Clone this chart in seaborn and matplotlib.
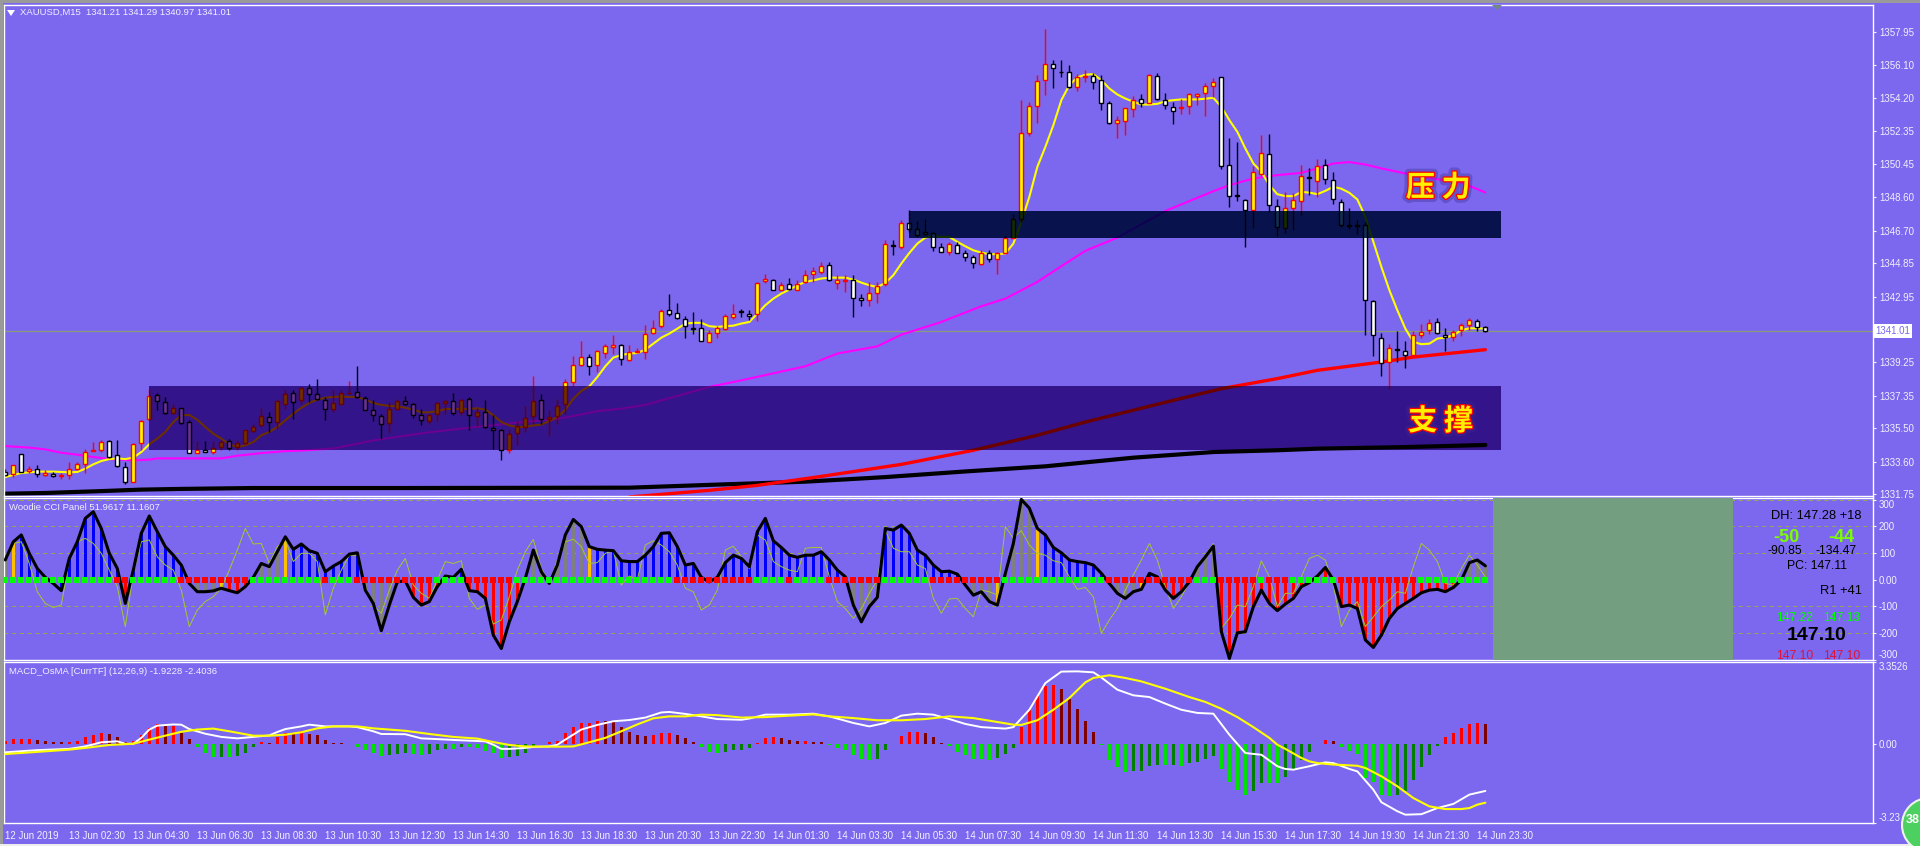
import numpy as np
import pandas as pd
import matplotlib
matplotlib.use('Agg')
import matplotlib.pyplot as plt
import matplotlib.patheffects as pe
from matplotlib.colors import to_rgb
from matplotlib.patches import Rectangle, Circle, Polygon
from matplotlib.transforms import IdentityTransform
import seaborn as sns

W, H = 1920, 846
BG = '#7B68EE'
TXT = '#F0F0FF'

OPENS = [
    1333.02,1332.92,1334.06,1333.07,1333.19,1332.87,1332.92,1332.79,1332.83,1333.21,
    1333.49,1334.23,1334.28,1334.77,1333.98,1333.32,1332.47,1334.66,1336.02,1337.40,
    1337.00,1336.36,1336.65,1335.85,1334.11,1334.26,1334.17,1334.42,1334.77,1334.43,
    1334.66,1335.34,1335.70,1336.13,1335.87,1336.89,1337.50,1337.12,1337.78,1337.44,
    1337.10,1336.61,1336.89,1337.48,1337.55,1337.23,1336.53,1336.21,1335.80,1336.61,
    1337.04,1336.87,1336.25,1335.93,1336.32,1336.95,1337.04,1336.40,1337.17,1336.21,
    1336.41,1335.51,1335.40,1334.28,1335.22,1335.57,1336.21,1337.12,1336.04,1336.17,
    1336.89,1338.14,1339.08,1339.55,1339.10,1339.76,1340.10,1340.22,1339.39,1339.82,
    1339.84,1340.90,1341.29,1342.22,1342.05,1341.71,1341.18,1341.20,1340.41,1340.92,
    1341.14,1341.82,1342.16,1341.99,1341.97,1343.84,1343.92,1343.35,1343.68,1343.35,
    1343.79,1344.21,1344.36,1344.72,1343.73,1343.85,1343.92,1342.90,1342.79,1343.16,
    1343.68,1345.90,1345.77,1347.15,1346.81,1346.64,1346.57,1345.79,1345.51,1345.90,
    1345.45,1345.21,1344.83,1345.43,1345.06,1345.43,1346.30,1347.38,1352.24,1353.73,
    1355.21,1356.15,1355.70,1355.66,1354.81,1355.39,1355.43,1355.21,1353.90,1352.82,
    1352.93,1353.58,1354.13,1353.94,1355.43,1354.07,1353.71,1353.64,1353.75,1354.35,
    1354.47,1354.90,1355.38,1350.44,1348.70,1348.44,1347.89,1349.91,1351.04,1348.09,
    1346.85,1348.00,1348.38,1349.76,1349.53,1350.44,1349.59,1348.34,1347.02,1347.02,
    1347.04,1342.73,1340.63,1339.27,1340.01,1339.90,1339.65,1340.78,1341.05,1341.52,
    1340.80,1340.67,1341.05,1341.35,1341.60,1341.21]
HIGHS = [
    1333.21,1333.43,1334.06,1333.38,1333.43,1333.11,1333.02,1332.96,1333.58,1333.60,
    1334.34,1334.72,1334.85,1334.85,1334.81,1333.58,1334.68,1335.98,1337.70,1337.51,
    1337.27,1336.85,1336.66,1335.98,1334.76,1334.77,1334.77,1334.85,1334.91,1334.85,
    1335.41,1335.76,1336.65,1336.40,1337.08,1337.68,1337.64,1337.84,1337.99,1338.27,
    1337.27,1337.68,1337.68,1338.16,1339.01,1337.31,1337.08,1336.32,1336.99,1337.17,
    1337.31,1336.92,1336.61,1336.32,1336.99,1337.12,1337.50,1337.13,1337.27,1336.65,
    1337.08,1336.23,1335.48,1335.48,1335.91,1336.73,1338.44,1337.46,1336.55,1337.17,
    1338.31,1339.59,1340.42,1339.69,1339.92,1340.29,1340.77,1340.29,1340.24,1340.07,
    1341.33,1341.61,1342.28,1343.09,1342.62,1341.84,1342.11,1341.67,1341.05,1341.29,
    1341.99,1342.56,1342.26,1342.18,1343.79,1344.26,1343.98,1343.79,1344.00,1343.92,
    1344.45,1344.64,1344.94,1344.94,1344.17,1344.17,1344.19,1343.13,1343.79,1343.79,
    1346.15,1346.15,1347.32,1347.85,1347.25,1347.36,1346.62,1346.02,1346.06,1346.06,
    1345.62,1345.30,1345.62,1345.58,1345.49,1346.42,1347.66,1354.09,1354.00,1355.51,
    1358.11,1356.39,1356.39,1356.06,1355.56,1355.79,1355.64,1355.51,1354.03,1353.18,
    1353.66,1354.32,1354.43,1355.55,1355.60,1354.47,1354.00,1354.18,1354.47,1354.47,
    1355.04,1355.32,1355.41,1351.97,1351.69,1348.47,1350.38,1352.11,1352.16,1348.51,
    1348.89,1348.80,1350.40,1350.27,1350.78,1350.78,1350.04,1348.47,1347.95,1347.28,
    1347.19,1342.79,1340.92,1340.26,1340.99,1340.43,1341.01,1341.39,1341.71,1341.77,
    1341.20,1341.05,1341.46,1341.73,1341.67,1341.29]
LOWS = [
    1332.77,1332.73,1333.02,1332.96,1332.73,1332.77,1332.73,1332.60,1332.60,1333.11,
    1332.96,1334.21,1334.15,1333.83,1333.30,1332.32,1332.45,1334.28,1335.95,1336.51,
    1336.32,1336.32,1335.76,1334.09,1334.09,1334.13,1334.02,1334.25,1334.25,1334.25,
    1334.62,1335.29,1335.57,1335.29,1335.48,1336.61,1336.02,1336.85,1336.99,1337.08,
    1335.95,1336.40,1336.85,1337.42,1337.23,1336.51,1335.91,1334.89,1335.23,1336.55,
    1336.80,1336.08,1335.66,1335.72,1335.91,1336.32,1336.25,1336.22,1335.37,1335.57,
    1335.53,1334.34,1333.68,1334.09,1334.53,1335.30,1335.76,1335.72,1335.04,1335.72,
    1336.32,1337.91,1339.02,1338.52,1338.67,1339.50,1339.69,1339.06,1339.29,1339.76,
    1339.40,1340.86,1341.20,1341.86,1341.69,1340.60,1340.86,1340.44,1340.39,1340.63,
    1341.09,1341.67,1341.78,1341.65,1341.58,1343.73,1343.32,1343.32,1343.32,1343.32,
    1343.70,1343.79,1344.26,1343.83,1343.39,1343.20,1341.80,1342.41,1342.43,1342.60,
    1343.58,1345.34,1345.68,1346.62,1346.34,1346.42,1345.55,1345.47,1345.30,1345.40,
    1344.98,1344.56,1344.75,1344.90,1344.22,1345.40,1346.26,1347.19,1352.05,1352.80,
    1354.37,1354.77,1355.38,1354.75,1354.60,1355.13,1354.71,1353.52,1352.75,1351.95,
    1352.11,1353.13,1353.71,1353.90,1354.09,1353.58,1352.73,1353.30,1353.30,1353.81,
    1353.18,1354.28,1350.20,1348.04,1348.38,1345.77,1346.85,1349.84,1347.76,1346.38,
    1346.57,1346.72,1347.57,1348.70,1348.61,1349.33,1348.19,1346.91,1346.79,1346.53,
    1340.77,1339.57,1338.44,1337.74,1339.23,1338.91,1339.57,1340.63,1340.86,1340.86,
    1339.88,1340.44,1340.71,1341.05,1341.01,1340.97]
CLOSES = [
    1332.83,1333.43,1333.02,1333.21,1332.92,1332.94,1332.81,1332.83,1333.21,1333.49,
    1334.15,1334.28,1334.72,1333.89,1333.38,1332.45,1334.62,1335.91,1337.33,1337.06,
    1336.36,1336.66,1335.81,1334.11,1334.26,1334.17,1334.36,1334.74,1334.40,1334.66,
    1335.38,1335.57,1336.19,1335.85,1337.04,1337.44,1336.99,1337.78,1337.44,1337.17,
    1336.59,1336.93,1337.50,1337.52,1337.27,1336.55,1336.27,1335.76,1336.59,1337.02,
    1336.89,1336.27,1335.99,1336.25,1336.93,1337.02,1336.37,1337.10,1336.27,1336.40,
    1335.57,1335.42,1334.28,1335.19,1335.63,1336.09,1337.04,1336.02,1336.15,1336.76,
    1338.12,1339.10,1339.55,1339.04,1339.90,1340.18,1340.23,1339.44,1339.82,1339.90,
    1340.86,1341.18,1342.16,1341.97,1341.77,1341.31,1341.12,1340.46,1340.92,1341.20,
    1341.88,1341.97,1342.11,1341.88,1343.73,1343.98,1343.35,1343.64,1343.39,1343.68,
    1344.19,1344.41,1344.70,1343.87,1343.92,1343.92,1342.90,1342.79,1343.18,1343.56,
    1345.94,1345.83,1347.15,1346.81,1346.42,1346.51,1345.79,1345.51,1345.94,1345.43,
    1345.21,1344.87,1345.43,1345.09,1345.43,1346.28,1347.36,1352.24,1353.77,1355.19,
    1356.15,1355.92,1355.66,1354.81,1355.41,1355.45,1355.13,1353.90,1352.80,1352.95,
    1353.62,1354.11,1353.94,1355.49,1354.13,1353.79,1353.50,1353.71,1354.41,1354.45,
    1354.90,1355.13,1350.35,1348.68,1348.65,1347.89,1349.99,1351.10,1348.17,1346.92,
    1347.95,1348.44,1349.80,1349.65,1350.36,1349.63,1348.46,1347.02,1346.93,1346.93,
    1342.79,1340.80,1339.20,1340.07,1339.93,1339.67,1340.78,1340.97,1341.48,1340.92,
    1340.67,1340.95,1341.37,1341.65,1341.26,1341.01]

# fast moving average, one reading per bar
MA_FAST = [
    1332.73,1332.85,1332.96,1333.00,1333.04,1333.04,1333.04,1333.02,1333.00,1333.02,
    1333.21,1333.45,1333.64,1333.75,1333.79,1333.75,1333.83,1334.15,1334.59,1334.91,
    1335.29,1335.85,1336.23,1336.25,1335.98,1335.57,1335.19,1334.91,1334.59,1334.43,
    1334.53,1334.72,1335.10,1335.29,1335.57,1335.95,1336.32,1336.66,1336.93,1337.12,
    1337.23,1337.27,1337.29,1337.27,1337.27,1337.12,1336.93,1336.82,1336.76,1336.74,
    1336.66,1336.55,1336.40,1336.40,1336.47,1336.59,1336.59,1336.59,1336.59,1336.63,
    1336.55,1336.23,1335.85,1335.66,1335.57,1335.57,1335.66,1335.70,1335.91,1336.13,
    1336.55,1337.17,1337.61,1337.87,1338.40,1339.01,1339.50,1339.65,1339.73,1339.76,
    1339.95,1340.29,1340.63,1340.86,1341.14,1341.43,1341.47,1341.47,1341.28,1341.24,
    1341.28,1341.31,1341.43,1341.52,1341.99,1342.47,1342.84,1343.13,1343.35,1343.60,
    1343.79,1343.88,1343.98,1344.03,1344.03,1344.03,1343.92,1343.75,1343.60,1343.50,
    1343.73,1344.17,1344.83,1345.43,1345.96,1346.30,1346.38,1346.34,1346.34,1346.06,
    1345.81,1345.58,1345.45,1345.36,1345.36,1345.40,1345.96,1347.19,1348.61,1350.31,
    1351.44,1352.67,1354.09,1354.94,1355.38,1355.53,1355.56,1355.22,1354.75,1354.41,
    1354.18,1354.00,1353.84,1353.84,1353.88,1354.03,1354.09,1354.13,1354.13,1354.13,
    1354.17,1354.22,1353.71,1352.96,1352.29,1351.35,1350.50,1350.03,1349.27,1348.76,
    1348.65,1348.65,1348.89,1348.85,1348.76,1348.95,1349.18,1349.07,1348.84,1348.46,
    1347.48,1346.06,1344.64,1343.32,1342.18,1341.14,1340.39,1340.26,1340.29,1340.58,
    1340.63,1340.77,1341.05,1341.16,1341.16,1341.14]

MA_MID_BARS = [0,3,5,7,9,11,13,16,18,19,27,29,32,35,37,41,44,46,50,53,58,62,66,69,72,74,77,80,
               88,92,100,104,109,112,117,122,125,129,132,135,139,145,151,153,156,159,162,164,
               166,168,170,172,174,177,179,182,185]
MA_MID = [1334.49,1334.40,1334.30,1334.11,1334.00,1333.87,1333.75,1333.68,1333.72,1333.79,1333.79,
          1333.94,1334.09,1334.20,1334.23,1334.35,1334.62,1334.81,1335.08,1335.27,1335.53,1335.72,
          1335.91,1336.02,1336.28,1336.47,1336.61,1336.82,1337.84,1338.21,1339.01,1339.73,1340.14,
          1340.80,1341.52,1342.41,1342.84,1343.79,1344.68,1345.55,1346.30,1347.81,1348.93,1349.27,
          1349.65,1349.84,1349.97,1350.22,1350.50,1350.58,1350.44,1350.22,1350.03,1349.74,1349.61,
          1349.41,1348.86]

MA_SLOW_BARS = [78,88,94,102,112,121,129,135,146,152,159,164,172,176,185]
MA_SLOW = [1331.60,1331.98,1332.26,1332.77,1333.45,1334.25,1335.10,1335.85,1337.08,1337.74,1338.31,
           1338.78,1339.25,1339.53,1339.95]

MA_LONG_BARS = [0,5,11,17,22,31,50,78,90,100,110,120,130,141,151,159,164,175,185]
MA_LONG = [1331.79,1331.83,1331.92,1332.02,1332.06,1332.11,1332.11,1332.13,1332.32,1332.47,1332.73,
           1333.05,1333.34,1333.83,1334.15,1334.25,1334.34,1334.43,1334.55]

# zones: start bar, end bar, low price, high price
SUPPORT_ZONE = [17.96, 186.9, 1334.24, 1337.87]
RESIST_ZONE = [112.97, 186.9, 1346.27, 1347.80]

PRICE_TICKS = [1357.95,1356.10,1354.20,1352.35,1350.45,1348.60,1346.70,1344.85,1342.95,1341.01,
               1339.25,1337.35,1335.50,1333.60,1331.75]

CCI_TURBO = [
    74,142,168,99,42,9,-14,-41,80,142,230,255,192,99,42,-89,36,174,239,180,
    124,92,55,-14,-45,-45,-42,-32,-41,-49,-26,9,61,49,105,161,114,134,109,99,
    30,51,68,96,101,-39,-89,-191,-95,-8,-4,-66,-95,-82,-26,14,9,39,-41,-45,
    -70,-208,-258,-158,-82,5,111,30,-14,55,168,226,199,124,114,111,109,71,68,68,
    92,124,174,176,124,55,61,9,-8,9,64,92,80,49,180,230,146,121,92,84,
    92,92,105,74,36,11,-95,-158,-101,-66,192,186,205,174,111,92,55,30,32,21,
    -20,-58,-45,-82,-95,24,136,301,268,192,168,121,101,74,68,64,55,24,-14,-51,
    -70,-45,-36,24,11,-39,-70,-45,-8,49,86,126,-195,-295,-199,-195,-101,-39,-89,-116,
    -91,-70,-26,-11,14,46,-1,-101,-95,-108,-226,-254,-208,-145,-108,-89,-70,-49,-39,-36,
    -45,-29,-1,64,74,52]
CCI_THIN = [
    74,136,142,61,-45,-89,-104,-95,74,142,155,136,99,36,-26,-176,24,142,149,86,
    55,36,-39,-176,-114,-82,-64,-32,36,111,192,134,136,61,124,149,68,99,99,68,
    -132,-32,36,92,92,-26,-95,-126,-39,36,80,-20,-51,-70,-1,68,61,71,-70,-111,
    -95,-166,-151,-64,36,105,151,42,-14,74,142,152,124,61,64,99,109,-20,14,-1,
    130,146,130,105,55,-32,-45,-114,-95,-39,111,126,86,42,168,149,68,49,36,30,
    118,121,121,11,-82,-108,-145,-108,-51,-1,184,118,105,105,55,42,-70,-126,-72,-70,
    -108,-139,-39,-45,-58,199,155,184,130,99,92,71,64,11,-36,-29,-64,-201,-151,-108,
    -39,18,74,136,74,-26,-108,-64,-8,55,92,136,-182,-145,-95,-101,-26,71,11,-101,
    -51,-51,11,80,92,74,-20,-176,-114,-82,-176,-139,-101,-76,-45,-51,49,136,111,68,
    -14,-20,42,92,55,11]
CCI_LEVELS = [200, 100, -100, -200]
CCI_KINDS = ('g' + 'o' + 'b'*13 + 'r' + 'b'*7 + 'r' + 'g'*3 + 'o' + 'r'*3 + 'g'*4 + 'o' + 'b'*9 + 'g'*5
             + 'r'*5 + 'b'*3 + 'r'*8 + 'g'*7 + 'o' + 'b'*32 + 'g'*4 + 'b'*10 + 'g'*4 + 'o' + 'g'*4 + 'o'
             + 'b'*8 + 'g'*4 + 'o' + 'b'*2 + 'r'*4 + 'g'*3 + 'r'*31 + 'g'*3)
CCI_DOTS = ('g'*14 + 'r'*2 + 'g'*6 + 'r'*9 + 'g'*9 + 'r' + 'g'*3 + 'r'*10 + 'g'*4 + 'r'*6 + 'g'*16
            + 'g'*4 + 'r'*10 + 'g'*4 + 'r' + 'g'*4 + 'r'*7 + 'g'*6 + 'r'*9 + 'g'*13 + 'r'*11 + 'g'*3
            + 'r'*5 + 'g' + 'r'*3 + 'g'*6 + 'r'*10 + 'g'*9)

OSMA = [
    .11,.20,.20,.20,.16,.12,.10,.08,.08,.11,.29,.37,.45,.42,.29,.07,.11,.35,.65,.82,
    .72,.75,.45,.20,-.14,-.37,-.54,-.54,-.55,-.50,-.37,-.14,.08,.04,.29,.45,.42,.52,.42,.37,
    .18,.04,.03,.01,-.11,-.23,-.37,-.50,-.46,-.41,-.37,-.39,-.44,-.39,-.26,-.20,-.21,-.11,-.14,-.16,
    -.27,-.37,-.59,-.54,-.48,-.37,-.16,.01,.07,.14,.45,.69,.86,.87,.94,.93,.89,.69,.49,.38,
    .34,.35,.45,.46,.37,.25,.10,-.14,-.31,-.37,-.31,-.26,-.23,-.18,.05,.26,.27,.26,.16,.12,
    .12,.10,.08,-.03,-.16,-.23,-.45,-.61,-.64,-.60,-.26,.01,.34,.50,.51,.45,.29,.04,-.10,-.31,
    -.46,-.60,-.61,-.64,-.56,-.39,-.16,.69,1.40,1.97,2.36,2.42,2.26,1.85,1.44,.95,.49,-.04,-.64,-.95,
    -1.13,-1.12,-1.09,-.88,-.84,-.86,-.86,-.89,-.78,-.72,-.60,-.48,-1.01,-1.54,-1.87,-2.10,-1.93,-1.59,-1.60,-1.61,
    -1.36,-1.01,-.67,-.31,-.01,.18,.12,-.11,-.27,-.39,-1.39,-1.54,-2.10,-2.14,-2.07,-1.93,-1.46,-.95,-.44,-.07,
    .27,.45,.67,.83,.87,.83]

MACD_BARS = [0,4,8,10,12,14,15,16,17,18,19,21,22,23,25,27,29,31,33,34,35,37,38,40,43,44,46,47,50,52,54,57,60,
             61,62,63,65,66,68,69,70,72,74,76,78,80,82,83,85,87,89,92,93,95,98,101,103,106,108,110,112,114,116,
             118,120,122,125,126,128,130,132,134,136,137,139,141,143,145,147,149,151,153,155,157,159,160,161,163,
             165,166,168,169,171,172,174,175,177,179,181,183,185]
MACD_LINE = [-.34,-.25,-.20,-.10,.07,.11,.01,.01,.25,.59,.75,.80,.79,.61,.42,.29,.23,.29,.35,.49,.61,.72,.79,.72,.72,
             .69,.52,.41,.40,.23,.20,.15,.11,-.03,-.20,-.20,-.16,-.12,-.10,-.03,.18,.59,.78,.93,.98,1.08,1.29,1.31,
             1.23,1.13,1.02,.99,1.04,1.20,1.20,1.24,1.13,.86,.72,.86,1.16,1.24,1.20,1.02,.82,.69,.63,.69,1.40,2.49,
             2.96,2.97,2.93,2.72,2.22,1.99,1.92,1.65,1.40,1.27,1.24,.38,-.37,-.44,-.91,-1.02,-1.05,-.91,-.75,-.78,
             -1.02,-1.12,-1.87,-2.38,-2.75,-2.89,-2.87,-2.62,-2.45,-2.07,-1.92]
SIGNAL_BARS = [0,5,8,10,13,16,18,20,22,24,26,28,31,33,35,37,39,41,44,46,50,53,56,59,61,63,65,69,71,73,75,77,79,81,83,
               85,87,89,92,95,98,101,103,106,109,112,115,118,121,124,126,127,129,131,133,135,136,138,140,142,145,148,
               150,152,154,156,158,159,160,162,163,164,166,169,170,172,174,176,178,180,182,183,184,185]
SIGNAL_LINE = [-.41,-.30,-.23,-.16,-.04,.01,.18,.34,.50,.59,.63,.52,.34,.34,.38,.48,.64,.72,.72,.64,.54,.41,.29,.22,.08,
               -.04,-.10,-.11,-.10,.07,.25,.52,.80,1.05,1.13,1.13,1.20,1.18,1.08,1.10,1.16,1.21,1.13,1.06,.97,.97,1.02,
               1.13,1.06,.90,.79,.78,.97,1.40,1.88,2.52,2.70,2.81,2.70,2.56,2.26,1.92,1.72,1.44,1.10,.69,.25,-.03,-.20,
               -.57,-.71,-.78,-.84,-.89,-.98,-1.32,-1.73,-2.21,-2.55,-2.66,-2.66,-2.62,-2.48,-2.40]

TIME_LABELS = ['12 Jun 2019','13 Jun 02:30','13 Jun 04:30','13 Jun 06:30','13 Jun 08:30','13 Jun 10:30','13 Jun 12:30',
               '13 Jun 14:30','13 Jun 16:30','13 Jun 18:30','13 Jun 20:30','13 Jun 22:30','14 Jun 01:30','14 Jun 03:30',
               '14 Jun 05:30','14 Jun 07:30','14 Jun 09:30','14 Jun 11:30','14 Jun 13:30','14 Jun 15:30','14 Jun 17:30',
               '14 Jun 19:30','14 Jun 21:30','14 Jun 23:30']

sns.set_theme(style='dark', rc={'axes.facecolor': BG, 'figure.facecolor': BG, 'axes.edgecolor': 'white',
                                'axes.linewidth': 1.0, 'xtick.color': TXT, 'ytick.color': TXT})
plt.rcParams['font.family'] = ['Liberation Sans', 'Noto Sans CJK SC', 'DejaVu Sans']

bars = np.arange(len(CLOSES))
fig = plt.figure(figsize=(W / 100, H / 100), dpi=100)


def panel(top, bottom, left=4, right=1872.6):
    ax = fig.add_axes([left / W, 1 - bottom / H, (right - left) / W, (bottom - top) / H])
    ax.grid(False)
    return ax


def pixel_text(x, y, s, **kw):
    fig.text(x / W, 1 - y / H, s, va='center', **kw)


def pixel_rect(x0, y0, x1, y1, color):
    fig.add_artist(Rectangle((x0, H - y1), x1 - x0, y1 - y0, color=color, lw=0,
                             transform=IdentityTransform()))


def draw_price(ax, tint=None, clip=None):
    # zones darken whatever is under them, so the same marks get redrawn tinted and clipped
    def col(c):
        return c if tint is None else tuple(a * b for a, b in zip(to_rgb(c), tint))
    z = 2 if tint is None else 4
    before = set(ax.get_children())
    sns.lineplot(x=MA_LONG_BARS, y=MA_LONG, color=col('black'), lw=3.0, ax=ax, zorder=z)
    sns.lineplot(x=MA_SLOW_BARS, y=MA_SLOW, color=col('red'), lw=2.4, ax=ax, zorder=z)
    sns.lineplot(x=MA_MID_BARS, y=MA_MID, color=col('#FF00FF'), lw=1.5, ax=ax, zorder=z)
    sns.lineplot(x=bars, y=MA_FAST, color=col('#FFFF00'), lw=1.5, ax=ax, zorder=z)
    up = np.array(CLOSES) >= np.array(OPENS)
    edge = [col('red') if u else col('black') for u in up]
    fill = [col('#FFFF00') if u else col('white') for u in up]
    ax.vlines(bars, LOWS, HIGHS, colors=edge, lw=1.0, zorder=z + 0.1)
    ax.bar(bars, np.abs(np.array(CLOSES) - np.array(OPENS)), bottom=np.minimum(OPENS, CLOSES), width=0.5,
           color=fill, edgecolor=edge, linewidth=1.0, zorder=z + 0.2)
    if clip is not None:
        for artist in set(ax.get_children()) - before:
            artist.set_clip_path(clip)


# main price panel
ax_p = panel(5, 496.5)
ax_p.axhline(CLOSES[-1], color='#8C9A78', lw=0.9, zorder=1)
draw_price(ax_p)
for zone, zone_col, tint in [(SUPPORT_ZONE, '#34148A', (0.42, 0.19, 0.58)),
                             (RESIST_ZONE, '#08134E', (0.065, 0.18, 0.33))]:
    rect = Rectangle((zone[0], zone[2]), zone[1] - zone[0], zone[3] - zone[2], color=zone_col, lw=0, zorder=3)
    ax_p.add_patch(rect)
    draw_price(ax_p, tint=tint, clip=rect)
ax_p.set_xlim(-0.16, 233.4)
ax_p.set_ylim(1331.63, 1359.48)
ax_p.set_xticks([])
ax_p.yaxis.tick_right()
ax_p.set_yticks(PRICE_TICKS)
ax_p.set_yticklabels(['%.2f' % v if v != CLOSES[-1] else '' for v in PRICE_TICKS], fontsize=7)
ax_p.tick_params(axis='y', length=2.5, width=0.8, pad=2, colors=TXT)
ax_p.set_ylabel('')
ax_p.text(1.0012, CLOSES[-1], '%.2f' % CLOSES[-1], transform=ax_p.get_yaxis_transform(), va='center', fontsize=7,
          color=BG, bbox=dict(fc='white', ec='none', pad=1.6), clip_on=False)

glow = [pe.withStroke(linewidth=6, foreground='#3A2A90', alpha=0.35), pe.withStroke(linewidth=1.8, foreground='red')]
ax_p.text(179.1, 1349.15, '压 力', ha='center', va='center', fontsize=21, color='#FFF000', fontweight='bold',
          family=['Noto Sans CJK SC'], path_effects=glow, zorder=6)
ax_p.text(179.4, 1335.91, '支 撑', ha='center', va='center', fontsize=21, color='#FFF000', fontweight='bold',
          family=['Noto Sans CJK SC'], path_effects=glow, zorder=6)

# Woodie CCI panel
ax_c = panel(498.5, 660)
for lev in CCI_LEVELS + [300]:
    ax_c.axhline(lev, color='#9CA64A', lw=0.7, ls=(0, (4, 4)), zorder=1)
cci_df = pd.DataFrame({'bar': bars, 'val': CCI_TURBO, 'kind': list(CCI_KINDS), 'dot': list(CCI_DOTS)})
sns.barplot(data=cci_df, x='bar', y='val', hue='kind', dodge=False, native_scale=True, width=0.42, saturation=1,
            palette={'b': '#0000FF', 'r': '#FF0000', 'g': '#808080', 'o': '#FFC000'}, errorbar=None,
            legend=False, linewidth=0, ax=ax_c, zorder=2)
sns.lineplot(x=bars, y=CCI_THIN, color='#A4C832', lw=0.7, ax=ax_c, zorder=3)
sns.lineplot(x=bars, y=CCI_TURBO, color='black', lw=2.2, ax=ax_c, zorder=4)
sns.scatterplot(data=cci_df, x='bar', y=np.zeros(len(bars)), hue='dot', palette={'g': '#00FF00', 'r': '#FF0000'},
                marker='s', s=18, linewidth=0, legend=False, ax=ax_c, zorder=5)
ax_c.add_patch(Rectangle((186.0, -305), 30.0, 610, color='#739E7F', lw=0, zorder=6))
ax_c.set_xlim(-0.16, 233.4)
ax_c.set_ylim(-301, 304.5)
ax_c.set_xticks([])
ax_c.set_xlabel('')
ax_c.set_ylabel('')
ax_c.yaxis.tick_right()
ax_c.set_yticks([300, 200, 100, 0, -100, -200, -300])
ax_c.set_yticklabels(['300', '200', '100', '0.00', '-100', '-200', '-300'], fontsize=7)
ax_c.tick_params(axis='y', length=2.5, width=0.8, pad=2, colors=TXT)
ax_c.get_yticklabels()[0].set_va('top')
ax_c.get_yticklabels()[-1].set_va('bottom')

# MACD / OsMA panel
ax_m = panel(662, 823)
prev = [OSMA[0]] + OSMA[:-1]
kinds = []
for v, p in zip(OSMA, prev):
    if v >= 0:
        kinds.append('pos_up' if v >= p else 'pos_dn')
    else:
        kinds.append('neg_dn' if v < p else 'neg_up')
macd_df = pd.DataFrame({'bar': bars, 'val': OSMA, 'kind': kinds})
sns.barplot(data=macd_df, x='bar', y='val', hue='kind', dodge=False, native_scale=True, width=0.42, saturation=1,
            palette={'pos_up': '#FF0000', 'pos_dn': '#800000', 'neg_dn': '#00E000', 'neg_up': '#007F00'},
            errorbar=None, legend=False, linewidth=0, ax=ax_m, zorder=2)
sns.lineplot(x=MACD_BARS, y=MACD_LINE, color='white', lw=1.4, ax=ax_m, zorder=3)
sns.lineplot(x=SIGNAL_BARS, y=SIGNAL_LINE, color='#FFFF00', lw=1.5, ax=ax_m, zorder=4)
ax_m.set_xlim(-0.16, 233.4)
ax_m.set_ylim(-3.23, 3.3526)
ax_m.set_xlabel('')
ax_m.set_ylabel('')
ax_m.yaxis.tick_right()
ax_m.set_yticks([3.3526, 0, -3.23])
ax_m.set_yticklabels(['3.3526', '0.00', '-3.23'], fontsize=7)
ax_m.tick_params(axis='y', length=2.5, width=0.8, pad=2, colors=TXT)
ax_m.get_yticklabels()[0].set_va('top')
ax_m.get_yticklabels()[-1].set_va('bottom')
ax_m.set_xticks(bars[::8])
ax_m.set_xticklabels(TIME_LABELS, fontsize=7, ha='left')
ax_m.tick_params(axis='x', length=2.5, width=0.8, pad=3, colors=TXT)

# captions
pixel_text(19.6, 12.7, 'XAUUSD,M15  1341.21 1341.29 1340.97 1341.01', fontsize=6.8, color=TXT)
pixel_text(9, 507.7, 'Woodie CCI Panel 51.9617 11.1607', fontsize=6.8, color=TXT)
pixel_text(9, 671.7, 'MACD_OsMA [CurrTF] (12,26,9) -1.9228 -2.4036', fontsize=6.8, color=TXT)

# readout over the CCI panel
pixel_text(1861.6, 516, 'DH: 147.28 +18', ha='right', fontsize=9.3, color='black')
pixel_text(1786, 537.7, '-50', ha='center', fontsize=13, fontweight='bold', color='#7CFC00')
pixel_text(1841, 537.7, '-44', ha='center', fontsize=13, fontweight='bold', color='#7CFC00')
pixel_text(1785, 550.7, '-90.85', ha='center', fontsize=8.8, color='black')
pixel_text(1836, 550.7, '-134.47', ha='center', fontsize=8.8, color='black')
pixel_text(1817, 565.7, 'PC: 147.11', ha='center', fontsize=8.8, color='black')
pixel_text(1861.6, 591, 'R1 +41', ha='right', fontsize=9.3, color='black')
pixel_text(1795, 618, '147.22', ha='center', fontsize=8.8, color='#00FF00')
pixel_text(1842, 618, '147.13', ha='center', fontsize=8.8, color='#00FF00')
pixel_text(1817, 636, '147.10', ha='center', fontsize=14, fontweight='bold', color='black')
pixel_text(1795, 655.7, '147.10', ha='center', fontsize=8.8, color='#DC143C')
pixel_text(1842, 655.7, '147.10', ha='center', fontsize=8.8, color='#DC143C')

# window furniture
pixel_rect(0, 0, W, 3, '#9A9A9A')
pixel_rect(0, 0, 3, H, '#9A9A9A')
pixel_rect(0, 843.5, W, H, '#EDEDED')
fig.add_artist(Polygon([(7, H - 10), (15, H - 10), (11, H - 16)], color='white', lw=0, transform=IdentityTransform()))
fig.add_artist(Polygon([(1492, H - 5), (1502, H - 5), (1497, H - 10)], color='#6F8A86', lw=0,
                       transform=IdentityTransform()))
fig.add_artist(Circle((1929, H - 825), 27, fc='#4CD060', ec='#E8F5E8', lw=1.5, transform=IdentityTransform()))
pixel_text(1906, 820, '38', fontsize=9, fontweight='bold', color='white')

fig.savefig('out.png', dpi=100, facecolor=BG)
